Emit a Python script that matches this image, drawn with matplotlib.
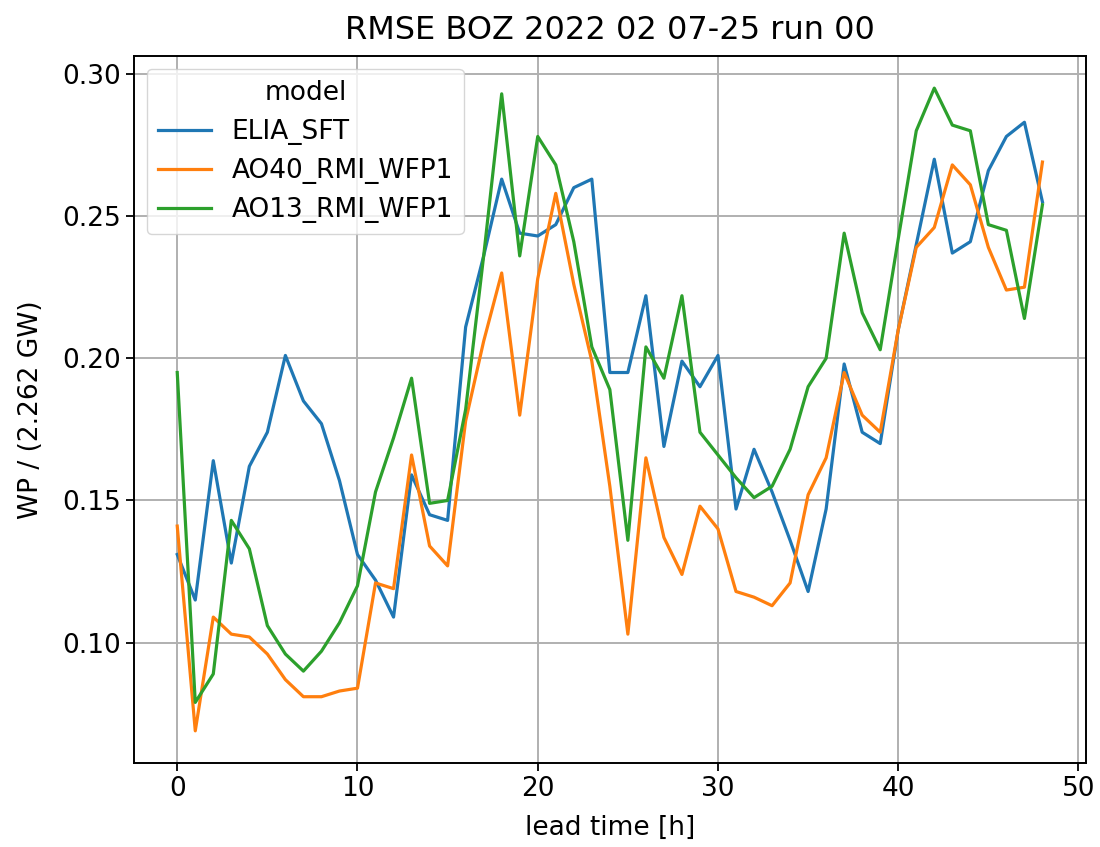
import numpy as np
import matplotlib
matplotlib.use("Agg")
import matplotlib.pyplot as plt

# RMSE per lead time, normalised by installed capacity
lead_time = np.arange(0, 49)

elia_sft = [
    0.131, 0.115, 0.164, 0.128, 0.162, 0.174, 0.201, 0.185, 0.177, 0.157,
    0.131, 0.122, 0.109, 0.159, 0.145, 0.143, 0.211, 0.236, 0.263, 0.244,
    0.243, 0.247, 0.260, 0.263, 0.195, 0.195, 0.222, 0.169, 0.199, 0.190,
    0.201, 0.147, 0.168, 0.153, 0.136, 0.118, 0.147, 0.198, 0.174, 0.170,
    0.210, 0.240, 0.270, 0.237, 0.241, 0.266, 0.278, 0.283, 0.255,
]
ao40_rmi_wfp1 = [
    0.141, 0.069, 0.109, 0.103, 0.102, 0.096, 0.087, 0.081, 0.081, 0.083,
    0.084, 0.121, 0.119, 0.166, 0.134, 0.127, 0.178, 0.206, 0.230, 0.180,
    0.228, 0.258, 0.226, 0.199, 0.155, 0.103, 0.165, 0.137, 0.124, 0.148,
    0.140, 0.118, 0.116, 0.113, 0.121, 0.152, 0.165, 0.195, 0.180, 0.174,
    0.210, 0.239, 0.246, 0.268, 0.261, 0.239, 0.224, 0.225, 0.269,
]
ao13_rmi_wfp1 = [
    0.195, 0.079, 0.089, 0.143, 0.133, 0.106, 0.096, 0.090, 0.097, 0.107,
    0.120, 0.153, 0.172, 0.193, 0.149, 0.150, 0.182, 0.236, 0.293, 0.236,
    0.278, 0.268, 0.241, 0.204, 0.189, 0.136, 0.204, 0.193, 0.222, 0.174,
    0.166, 0.158, 0.151, 0.155, 0.168, 0.190, 0.200, 0.244, 0.216, 0.203,
    0.242, 0.280, 0.295, 0.282, 0.280, 0.247, 0.245, 0.214, 0.254,
]

models = ["ELIA_SFT", "AO40_RMI_WFP1", "AO13_RMI_WFP1"]
series = [elia_sft, ao40_rmi_wfp1, ao13_rmi_wfp1]
colors = ["#1f77b4", "#ff7f0e", "#2ca02c"]

fig = plt.figure(figsize=(11, 8.47), dpi=100)
ax = fig.add_axes([0.1218, 0.0992, 0.8652, 0.8347])

for name, vals, c in zip(models, series, colors):
    ax.plot(lead_time, vals, color=c, linewidth=2.3, label=name)

ax.grid(True, color="#b0b0b0", linewidth=1.4)
ax.set_axisbelow(True)
ax.set_xticks([0, 10, 20, 30, 40, 50])
ax.set_yticks([0.10, 0.15, 0.20, 0.25, 0.30])
ax.tick_params(labelsize=19, length=6, width=1.3)
for s in ax.spines.values():
    s.set_linewidth(1.4)

ax.set_xlabel("lead time [h]", fontsize=19, labelpad=9)
ax.set_ylabel("WP / (2.262 GW)", fontsize=19, labelpad=13)
ax.set_title("RMSE BOZ 2022 02 07-25 run 00", fontsize=23, pad=12)

leg = ax.legend(title="model", loc="upper left", fontsize=19,
                title_fontsize=19, handlelength=2.0)

fig.savefig("out.png", dpi=100)
